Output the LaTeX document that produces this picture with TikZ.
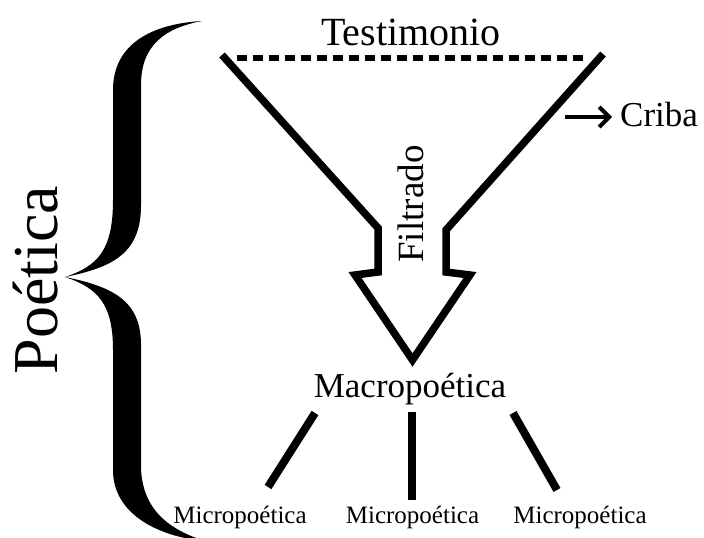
\documentclass[tikz,border=0pt]{standalone}
\usepackage{fontspec}
\setmainfont{Liberation Serif}
\usetikzlibrary{arrows.meta}
\begin{document}
\begin{tikzpicture}[x=1pt,y=-1pt,
  thick line/.style={line width=7.5pt,line join=miter},
  dash line/.style={line width=6pt,dash pattern=on 10pt off 6pt},
  branch/.style={line width=8pt},
  lbl/.style={inner sep=0pt,anchor=base}]
\useasboundingbox (0,0) rectangle (704,538);
% texts
\node[lbl,font=\fontsize{40}{48}\selectfont] (test) at (411,45) {Testimonio};
\node[lbl,anchor=base west,font=\fontsize{35}{42}\selectfont] (criba) at (620,126) {Criba};
\node[lbl,rotate=90,font=\fontsize{37}{44}\selectfont] (filt) at (423,204) {Filtrado};
\node[lbl,font=\fontsize{35}{42}\selectfont] (macro) at (410,397) {Macropoética};
\node[lbl,font=\fontsize{25}{30}\selectfont] (m1) at (240,523) {Micropoética};
\node[lbl,font=\fontsize{25}{30}\selectfont] (m2) at (412.5,523) {Micropoética};
\node[lbl,font=\fontsize{25}{30}\selectfont] (m3) at (580,523) {Micropoética};
\node[lbl,rotate=90,font=\fontsize{64}{72}\selectfont] (poet) at (57,280) {Poética};
% funnel
\draw[dash line] (237,58) -- (587,58);
\draw[thick line] (222,55) -- (378,228) -- (378,272) -- (355,275) -- (412.5,360)
  -- (470,275) -- (446,272) -- (446,230) -- (603,54);
% criba arrow
\coordinate (ca) at (565,117);
\coordinate (cb) at (612,117);
\draw[line width=4pt,-{Straight Barb[length=10pt,width=20pt,line width=4pt]}] (ca) -- (cb);
% branches
\coordinate (b1s) at (315,413); \coordinate (b1e) at (268,487);
\coordinate (b2s) at (412,412); \coordinate (b2e) at (412,500);
\coordinate (b3s) at (513,413); \coordinate (b3e) at (557,490);
\draw[branch] (b1s) -- (b1e);
\draw[branch] (b2s) -- (b2e);
\draw[branch] (b3s) -- (b3e);
% brace
\fill (202,21) .. controls (150,24) and (113,45) .. (113,90)
  -- (113,200) .. controls (113,250) and (98,266) .. (65,277)
  .. controls (98,288) and (113,304) .. (113,350)
  -- (113,470) .. controls (113,515) and (160,537) .. (205,541)
  .. controls (170,530) and (141,510) .. (141,465)
  -- (141,345) .. controls (141,302) and (115,287) .. (65,277)
  .. controls (115,267) and (141,252) .. (141,205)
  -- (141,85) .. controls (141,45) and (165,28) .. (202,21) -- cycle;
\end{tikzpicture}
\end{document}
